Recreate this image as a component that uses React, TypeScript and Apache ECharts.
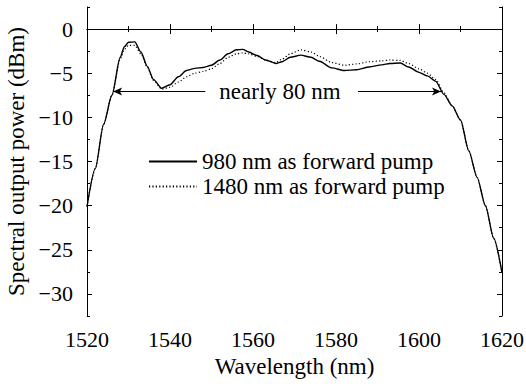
import React, { useEffect, useRef } from "react";
import * as echarts from "echarts";

const xTicks = [1520, 1540, 1560, 1580, 1600, 1620];
const yTickLabels = [0, -5, -10, -15, -20, -25, -30];

const seriesNames = ["980 nm as forward pump", "1480 nm as forward pump"];

const wavelength980 = [
  1520, 1522, 1524, 1526, 1528, 1529, 1530, 1531.5, 1533, 1534.5, 1536, 1538, 1540, 1542, 1544, 1546, 1548,
  1550, 1552, 1554, 1556, 1557.5, 1559, 1561, 1563, 1565.5, 1567, 1569, 1571.5, 1574, 1576, 1579, 1582, 1585,
  1588, 1591, 1593, 1595.5, 1597.5, 1600, 1602, 1604, 1606, 1608, 1610, 1612, 1614, 1616, 1618, 1620,
];
const power980 = [
  -20.1, -15.8, -10.8, -7.5, -3.2, -2.0, -1.5, -1.45, -2.6, -4.2, -5.7, -6.7, -6.3, -5.4, -4.7, -4.45, -4.35,
  -4.1, -3.5, -2.8, -2.35, -2.3, -2.6, -3.0, -3.5, -3.9, -3.7, -3.2, -2.95, -3.2, -3.65, -4.4, -4.7, -4.6,
  -4.3, -4.05, -3.9, -3.85, -4.3, -4.9, -5.3, -5.9, -7.4, -8.7, -10.3, -13.8, -16.8, -20.0, -23.7, -27.6,
];

const wavelength1480 = wavelength980;
const power1480 = [
  -20.1, -15.8, -10.8, -7.5, -3.4, -2.3, -1.85, -1.85, -2.8, -4.3, -5.8, -6.8, -6.6, -6.0, -5.4, -5.0, -4.8,
  -4.5, -3.9, -3.2, -2.8, -2.7, -2.8, -3.1, -3.5, -3.8, -3.4, -2.8, -2.35, -2.6, -3.1, -3.8, -4.1, -3.95,
  -3.7, -3.6, -3.5, -3.55, -3.9, -4.5, -5.0, -5.7, -7.2, -8.7, -10.3, -13.8, -16.8, -20.0, -23.7, -27.6,
];

// bandwidth annotation
const bandLevel = -7.07;
const arrowLeft = [1526.3, 1548.5];
const arrowRight = [1585.3, 1605.3];
const bandLabel = "nearly 80 nm";
const bandLabelX = 1566.5;

const yMin = -32.5;
const yMax = 2.5;

export default function App() {
  const ref = useRef<HTMLDivElement>(null);

  useEffect(() => {
    if (!ref.current) return;
    const chart = echarts.init(ref.current, null, { renderer: "svg" });
    const minus = (v: number) => String(v).replace("-", "\u2212");

    const option: any = {
      animation: false,
      grid: { left: 87, right: 24, top: 7, bottom: 68, outerBoundsMode: "none" },
      legend: {
        orient: "vertical",
        left: 143,
        top: 145,
        itemWidth: 48,
        itemHeight: 14,
        itemGap: 2,
        itemStyle: { opacity: 0 },
        textStyle: { fontFamily: "Liberation Serif", fontSize: 23, color: "#000", lineHeight: 20 },
        data: seriesNames,
      },
      xAxis: [
        {
          type: "value",
          position: "bottom",
          min: xTicks[0],
          max: xTicks[xTicks.length - 1],
          interval: 20,
          axisLine: { lineStyle: { color: "#000", width: 1 } },
          axisTick: { inside: true, length: 5, lineStyle: { color: "#000" } },
          minorTick: { show: true, splitNumber: 2, length: 3, lineStyle: { color: "#000" } },
          axisLabel: {
            fontFamily: "Liberation Serif",
            fontSize: 22,
            color: "#000",
            margin: 12,
            formatter: (v: number) => String(v),
          },
          splitLine: { show: false },
          name: "Wavelength (nm)",
          nameLocation: "middle",
          nameGap: 38,
          nameTextStyle: { fontFamily: "Liberation Serif", fontSize: 23, color: "#000" },
        },
        {
          type: "value",
          position: "top",
          min: xTicks[0],
          max: xTicks[xTicks.length - 1],
          interval: 20,
          axisLine: { lineStyle: { color: "#000", width: 1 } },
          axisTick: { inside: true, length: 5, lineStyle: { color: "#000" } },
          minorTick: { show: true, splitNumber: 2, length: 3, lineStyle: { color: "#000" } },
          axisLabel: { show: false },
          splitLine: { show: false },
        },
      ],
      yAxis: [
        {
          type: "value",
          position: "left",
          min: yMin,
          max: yMax,
          interval: 2.5,
          splitLine: { show: false },
          axisLine: { lineStyle: { color: "#000", width: 1 } },
          axisTick: { inside: true, length: 3, lineStyle: { color: "#000" } },
          axisLabel: {
            fontFamily: "Liberation Serif",
            fontSize: 22,
            color: "#000",
            margin: 14,
            customValues: yTickLabels,
            formatter: (v: number) => minus(v),
          },
          name: "Spectral output power (dBm)",
          nameLocation: "middle",
          nameRotate: 90,
          nameGap: 54,
          nameTextStyle: { fontFamily: "Liberation Serif", fontSize: 23, color: "#000" },
        },
        {
          type: "value",
          position: "left",
          min: yMin,
          max: yMax,
          interval: 2.5,
          splitLine: { show: false },
          axisLine: { show: false },
          axisTick: { inside: true, length: 5, customValues: yTickLabels, lineStyle: { color: "#000" } },
          axisLabel: { show: false },
        },
        {
          type: "value",
          position: "right",
          min: yMin,
          max: yMax,
          interval: 2.5,
          splitLine: { show: false },
          axisLine: { lineStyle: { color: "#000", width: 1 } },
          axisTick: { inside: true, length: 3, lineStyle: { color: "#000" } },
          axisLabel: { show: false },
        },
        {
          type: "value",
          position: "right",
          min: yMin,
          max: yMax,
          interval: 2.5,
          splitLine: { show: false },
          axisLine: { show: false },
          axisTick: { inside: true, length: 5, customValues: yTickLabels, lineStyle: { color: "#000" } },
          axisLabel: { show: false },
        },
      ],
      series: [
        {
          name: seriesNames[0],
          type: "line",
          xAxisIndex: 0,
          yAxisIndex: 0,
          symbol: "none",
          smooth: 0.25,
          smoothMonotone: "x",
          lineStyle: { color: "#000", width: 1.4, type: "solid" },
          itemStyle: { color: "#000" },
          data: wavelength980.map((w, i) => [w, power980[i]]),
          markLine: {
            silent: true,
            symbolSize: [6, 9],
            lineStyle: { color: "#000", width: 1, type: "solid" },
            label: { show: false },
            data: [
              [
                { coord: [arrowLeft[0], bandLevel], symbol: "arrow" },
                { coord: [arrowLeft[1], bandLevel], symbol: "none" },
              ],
              [
                { coord: [arrowRight[0], bandLevel], symbol: "none" },
                { coord: [arrowRight[1], bandLevel], symbol: "arrow" },
              ],
            ],
          },
          markPoint: {
            silent: true,
            symbolSize: 0,
            label: {
              show: true,
              formatter: bandLabel,
              fontFamily: "Liberation Serif",
              fontSize: 23,
              color: "#000",
            },
            data: [{ coord: [bandLabelX, bandLevel] }],
          },
        },
        {
          name: seriesNames[1],
          type: "line",
          xAxisIndex: 0,
          yAxisIndex: 0,
          symbol: "none",
          smooth: 0.25,
          smoothMonotone: "x",
          lineStyle: { color: "#000", width: 1.2, type: [1.2, 2.2] },
          itemStyle: { color: "#000" },
          data: wavelength1480.map((w, i) => [w, power1480[i]]),
        },
      ],
    };

    chart.setOption(option);
    return () => chart.dispose();
  }, []);

  return (
    <div
      ref={ref}
      style={{ position: "fixed", left: 0, top: 0, width: 526, height: 384, background: "#fff" }}
    />
  );
}
